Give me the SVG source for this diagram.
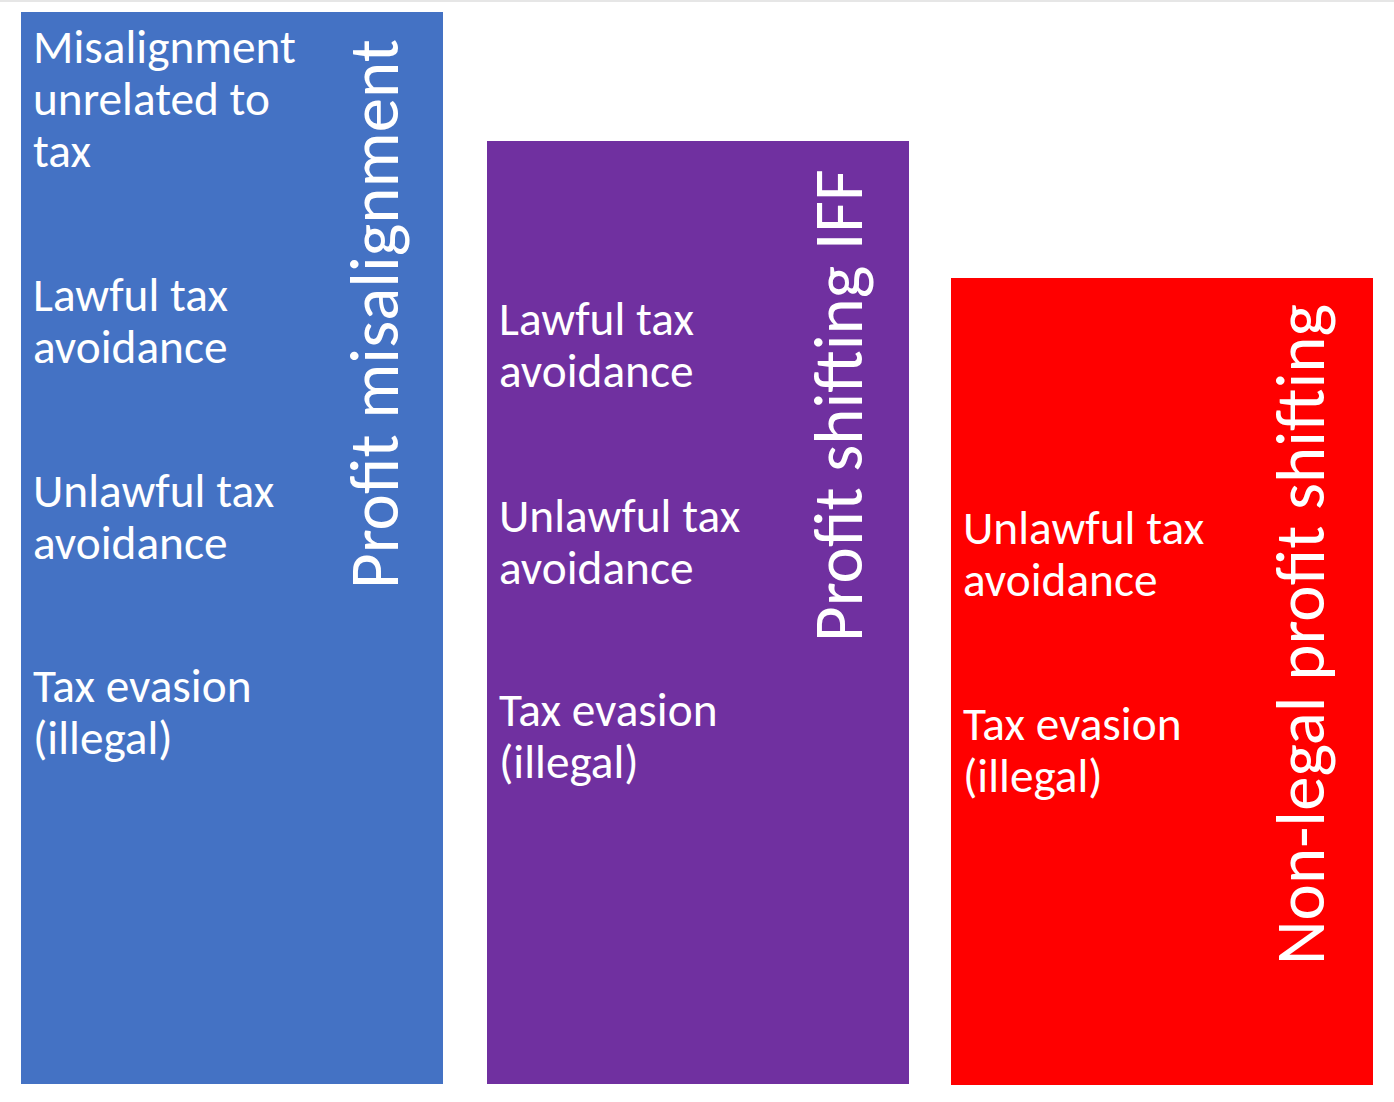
<svg xmlns="http://www.w3.org/2000/svg" width="1394" height="1102" viewBox="0 0 1394 1102">
<style>
.t{font-family:Carlito,Calibri,Lato,"Liberation Sans",sans-serif;fill:#ffffff;font-size:47.3px}
.v{font-family:Carlito,Calibri,Lato,"Liberation Sans",sans-serif;fill:#ffffff;font-size:69px}
</style>
<rect x="0" y="0" width="1394" height="1102" fill="#ffffff"/>
<rect x="0" y="0" width="1394" height="2" fill="#e6e6e6"/>
<g id="profit-misalignment">
<rect x="21" y="12" width="422" height="1072" fill="#4472C4"/>
<text class="t" x="33" y="63">Misalignment<tspan x="33" dy="52">unrelated to</tspan><tspan x="33" dy="52">tax</tspan></text>
<text class="t" x="33" y="311">Lawful tax<tspan x="33" dy="51.5">avoidance</tspan></text>
<text class="t" x="33" y="507">Unlawful tax<tspan x="33" dy="51.5">avoidance</tspan></text>
<text class="t" x="33" y="702">Tax evasion<tspan x="33" dy="51.5">(illegal)</tspan></text>
<text class="v" transform="translate(398,589) rotate(-90)">Profit misalignment</text>
</g>
<g id="profit-shifting-iff">
<rect x="487" y="141" width="422" height="943" fill="#7030A0"/>
<text class="t" x="499" y="335">Lawful tax<tspan x="499" dy="51.5">avoidance</tspan></text>
<text class="t" x="499" y="532">Unlawful tax<tspan x="499" dy="51.5">avoidance</tspan></text>
<text class="t" x="499" y="726">Tax evasion<tspan x="499" dy="51.5">(illegal)</tspan></text>
<text class="v" transform="translate(862,642) rotate(-90)">Profit shifting IFF</text>
</g>
<g id="non-legal-profit-shifting">
<rect x="951" y="278" width="422" height="807" fill="#FF0000"/>
<text class="t" x="963" y="544">Unlawful tax<tspan x="963" dy="51.5">avoidance</tspan></text>
<text class="t" x="963" y="740">Tax evasion<tspan x="963" dy="51.5">(illegal)</tspan></text>
<text class="v" transform="translate(1324,965) rotate(-90)">Non-legal profit shifting</text>
</g>
<g id="connectors"/>
</svg>
